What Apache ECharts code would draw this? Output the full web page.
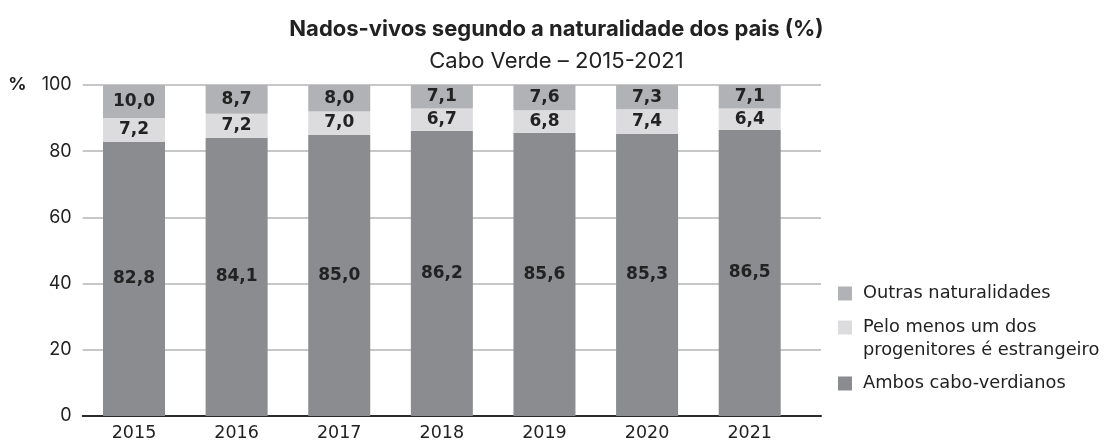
<!DOCTYPE html>
<html>
<head>
<meta charset="utf-8">
<script src="https://cdn.jsdelivr.net/npm/echarts@6/dist/echarts.min.js"></script>
<style>
  html, body { margin: 0; padding: 0; background: #fff; }
  #chart { width: 1113px; height: 441px; }
</style>
</head>
<body>
<div id="chart"></div>
<script>
// Births by parents' place of origin, Cabo Verde (%)
const years = ['2015', '2016', '2017', '2018', '2019', '2020', '2021'];
const ambosCaboVerdianos = [82.8, 84.1, 85.0, 86.2, 85.6, 85.3, 86.5];
const peloMenosUmEstrangeiro = [7.2, 7.2, 7.0, 6.7, 6.8, 7.4, 6.4];
const outrasNaturalidades = [10.0, 8.7, 8.0, 7.1, 7.6, 7.3, 7.1];
const seriesNames = ['Ambos cabo-verdianos', 'Pelo menos um dos\nprogenitores é estrangeiro', 'Outras naturalidades'];
const yMin = 0, yMax = 100, yStep = 20;

const colors = ['#8b8c90', '#dcdcde', '#b1b2b5'];
const labelFont = "'DejaVu Sans', Verdana, sans-serif";
const headFont = "Inter, Roboto, sans-serif";

const fmt = v => v.toFixed(1).replace('.', ',');

const chart = echarts.init(document.getElementById('chart'), null, { renderer: 'canvas' });

const gridTop = 85, gridBottom = 25;
const splitStyle = { show: true, lineStyle: { color: '#b4b4b4', width: 1.5 } };
const legendText = { fontFamily: labelFont, fontSize: 17.8, color: '#222', lineHeight: 23, padding: [0, 0, 0, 6] };

function legendBox(name, top, formatter) {
  return {
    data: [name],
    left: 838,
    top: top,
    padding: 0,
    orient: 'vertical',
    icon: 'rect',
    itemWidth: 14,
    itemHeight: 14,
    selectedMode: false,
    formatter: formatter,
    textStyle: legendText
  };
}

const barSeries = [ambosCaboVerdianos, peloMenosUmEstrangeiro, outrasNaturalidades].map((arr, i) => ({
  name: seriesNames[i],
  type: 'bar',
  stack: 'total',
  barWidth: 62,
  xAxisIndex: 0,
  yAxisIndex: 0,
  data: arr,
  itemStyle: { color: colors[i] },
  label: {
    show: true,
    position: 'inside',
    formatter: p => fmt(p.value),
    fontFamily: labelFont,
    fontWeight: 'bold',
    fontSize: 17,
    color: '#222'
  }
}));

chart.setOption({
  animation: false,
  backgroundColor: '#fff',
  title: {
    text: 'Nados-vivos segundo a naturalidade dos pais (%)',
    subtext: 'Cabo Verde – 2015-2021',
    left: 'center',
    top: 13,
    itemGap: 10,
    textStyle: { fontFamily: headFont, fontWeight: 'bold', fontSize: 22, color: '#222' },
    subtextStyle: { fontFamily: headFont, fontWeight: 'normal', fontSize: 22, color: '#222' }
  },
  legend: [
    legendBox(seriesNames[2], 282),
    // two-line entry: a blank leading line keeps the swatch level with the first text line
    legendBox(seriesNames[1], 293, name => '\n' + name),
    legendBox(seriesNames[0], 372)
  ],
  grid: [
    { left: 82.7, right: 312, top: gridTop, bottom: gridBottom, outerBoundsMode: 'none' },
    // short extension so the gridlines and baseline run past the last bar
    { left: 801, width: 20, top: gridTop, bottom: gridBottom, outerBoundsMode: 'none' }
  ],
  xAxis: [
    {
      gridIndex: 0,
      type: 'category',
      data: years,
      axisLine: { show: true, lineStyle: { color: '#2a2a2a', width: 2 } },
      axisTick: { show: false },
      axisLabel: { fontFamily: labelFont, fontSize: 17.5, color: '#222', margin: 8 }
    },
    {
      gridIndex: 1,
      type: 'category',
      data: [''],
      axisLine: { show: true, lineStyle: { color: '#2a2a2a', width: 2 } },
      axisTick: { show: false },
      axisLabel: { show: false }
    }
  ],
  yAxis: [
    {
      gridIndex: 0,
      type: 'value',
      min: yMin,
      max: yMax,
      interval: yStep,
      axisLine: { show: false },
      axisTick: { show: false },
      splitLine: splitStyle,
      axisLabel: {
        fontFamily: headFont,
        fontSize: 18,
        color: '#222',
        margin: 11,
        formatter: v => (v === yMax ? '{p|%}   ' + v : String(v)),
        rich: { p: { fontFamily: headFont, fontWeight: 'bold', fontSize: 18, color: '#222' } }
      }
    },
    {
      gridIndex: 1,
      type: 'value',
      min: yMin,
      max: yMax,
      interval: yStep,
      axisLine: { show: false },
      axisTick: { show: false },
      axisLabel: { show: false },
      splitLine: splitStyle
    }
  ],
  series: barSeries
});
</script>
</body>
</html>
